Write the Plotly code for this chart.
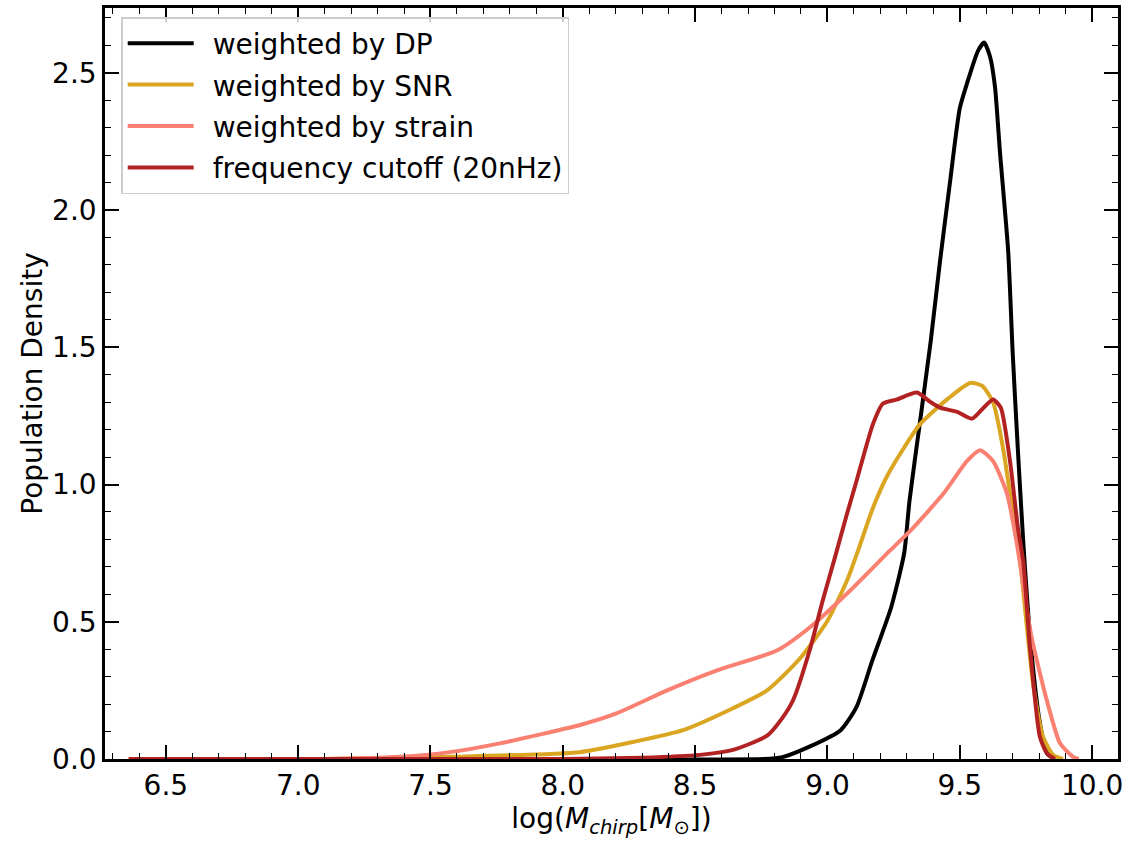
import plotly.graph_objects as go

# --- data ---
dp_x = [6.36, 8.0, 8.76, 8.83, 8.93, 9.05, 9.11, 9.17, 9.24, 9.29, 9.31, 9.35, 9.39, 9.425, 9.463,
        9.50, 9.527, 9.569, 9.592, 9.614, 9.633, 9.652, 9.683, 9.70, 9.72, 9.742, 9.77, 9.803, 9.83, 9.86]
dp_y = [0.0, 0.0, 0.0, 0.007, 0.044, 0.105, 0.19, 0.36, 0.55, 0.75, 0.94, 1.23, 1.52, 1.81, 2.10,
        2.37, 2.46, 2.58, 2.61, 2.56, 2.45, 2.21, 1.85, 1.48, 1.12, 0.76, 0.40, 0.13, 0.02, 0.0]

snr_x = [6.36, 7.1, 7.573, 8.065, 8.265, 8.454, 8.643, 8.772, 8.896, 8.998, 9.074, 9.116, 9.17,
         9.225, 9.29, 9.35, 9.452, 9.539, 9.584, 9.626, 9.664, 9.70, 9.728, 9.777, 9.815, 9.853, 9.89]
snr_y = [0.0, 0.0, 0.008, 0.025, 0.062, 0.105, 0.185, 0.25, 0.366, 0.50, 0.65, 0.76, 0.91,
         1.03, 1.135, 1.22, 1.31, 1.37, 1.36, 1.30, 1.13, 0.90, 0.72, 0.275, 0.08, 0.015, 0.0]

strain_x = [6.36, 7.1, 7.384, 7.573, 7.762, 8.065, 8.205, 8.394, 8.583, 8.809, 8.934, 9.085, 9.237,
            9.312, 9.437, 9.527, 9.577, 9.626, 9.679, 9.716, 9.77, 9.83, 9.879, 9.928, 9.95]
strain_y = [0.0, 0.0, 0.008, 0.025, 0.057, 0.124, 0.167, 0.25, 0.323, 0.395, 0.48, 0.613, 0.76,
            0.83, 0.965, 1.085, 1.125, 1.085, 0.965, 0.784, 0.45, 0.21, 0.057, 0.008, 0.0]

cut_x = [6.36, 8.0, 8.3, 8.518, 8.643, 8.772, 8.83, 8.87, 8.934, 8.983, 9.03, 9.07, 9.112, 9.172,
         9.21, 9.263, 9.338, 9.39, 9.425, 9.49, 9.546, 9.59, 9.626, 9.655, 9.69, 9.72, 9.74, 9.766,
         9.803, 9.83, 9.86]
cut_y = [0.0, 0.0, 0.005, 0.015, 0.033, 0.085, 0.15, 0.214, 0.40, 0.58, 0.74, 0.88, 1.02, 1.22,
         1.295, 1.31, 1.335, 1.30, 1.28, 1.265, 1.24, 1.28, 1.31, 1.28, 1.085, 0.84, 0.72, 0.40,
         0.08, 0.02, 0.0]

series = [
    ("weighted by DP", dp_x, dp_y, "black"),
    ("weighted by SNR", snr_x, snr_y, "#DAA520"),
    ("weighted by strain", strain_x, strain_y, "#FA8072"),
    ("frequency cutoff (20nHz)", cut_x, cut_y, "#B22222"),
]

fig = go.Figure()
for i, (name, xs, ys, col) in enumerate(series):
    fig.add_trace(go.Scatter(x=xs, y=ys, mode="lines", name="\u2002" + name, legendgroup=f"g{i}",
                             line=dict(color=col, width=4, shape="spline", smoothing=0.6)))

font = "DejaVu Sans"
FS = 28
axis_common = dict(showline=True, linewidth=2.5, linecolor="black", mirror="allticks",
                   ticks="inside", ticklen=14, tickwidth=1.5, tickcolor="black",
                   showgrid=False, zeroline=False,
                   tickfont=dict(family=font, size=FS, color="black"))

fig.update_xaxes(range=[6.27, 10.098], dtick=0.5, tick0=6.5, tickformat=".1f",
                 minor=dict(ticks="inside", ticklen=6, tickwidth=1.2, tickcolor="black", dtick=0.1),
                 title=dict(text="log(<i>M</i><sub><i>chirp</i></sub>[<i>M</i><sub>⊙</sub>])",
                            font=dict(family=font, size=FS, color="black"), standoff=4),
                 **axis_common)
fig.update_yaxes(range=[0, 2.736], dtick=0.5, tick0=0, tickformat=".1f",
                 minor=dict(ticks="inside", ticklen=6, tickwidth=1.2, tickcolor="black", dtick=0.1),
                 title=dict(text="Population Density",
                            font=dict(family=font, size=FS, color="black"), standoff=2),
                 **axis_common)

fig.update_layout(
    width=1133, height=841,
    margin=dict(l=105, r=15, t=5, b=82),
    paper_bgcolor="white", plot_bgcolor="white",
    font=dict(family=font, size=FS, color="black"),
    legend=dict(x=0.016, y=0.988, xanchor="left", yanchor="top",
                bgcolor="rgba(255,255,255,0.8)", bordercolor="#cccccc", borderwidth=1.5,
                font=dict(family=font, size=FS, color="black"),
                itemwidth=66, tracegroupgap=2),
    showlegend=True,
)

fig.write_html("out.html")
